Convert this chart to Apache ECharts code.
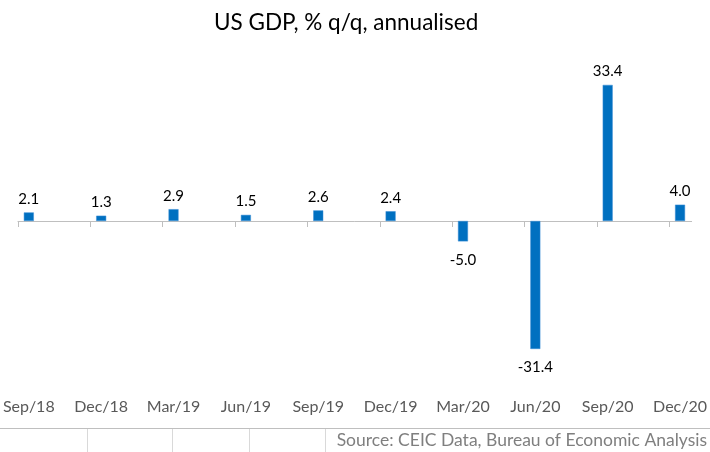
<!DOCTYPE html>
<html>
<head>
<meta charset="utf-8">
<script src="https://cdn.jsdelivr.net/npm/echarts@6/dist/echarts.min.js"></script>
<style>
html,body{margin:0;padding:0;background:#fff;}
#chart{width:710px;height:452px;}
</style>
</head>
<body>
<div id="chart"></div>
<script>
const categories = ['Sep/18','Dec/18','Mar/19','Jun/19','Sep/19','Dec/19','Mar/20','Jun/20','Sep/20','Dec/20'];
const gdpValues = [2.1, 1.3, 2.9, 1.5, 2.6, 2.4, -5.0, -31.4, 33.4, 4.0];
const titleText = 'US GDP, % q/q, annualised';
const sourceText = 'Source: CEIC Data, Bureau of Economic Analysis';

const FONT = 'Lato';
const chart = echarts.init(document.getElementById('chart'), null, {renderer: 'canvas'});

const barData = gdpValues.map((v, i) => ({
  value: [i, v],
  label: { position: v < 0 ? 'bottom' : 'top', distance: v < 0 ? 11 : 6 }
}));

const option = {
  backgroundColor: '#ffffff',
  animation: false,
  title: {
    text: titleText,
    left: 209,
    top: 6,
    textStyle: { fontFamily: FONT, fontSize: 22.5, fontWeight: 'normal', color: '#000' }
  },
  grid: { left: 17, right: 17, top: 58, bottom: 68 },
  xAxis: [
    {
      type: 'value', min: -0.15, max: 9.16,
      axisLine: { show: true, onZero: true, lineStyle: { color: '#bfbfbf', width: 1 } },
      axisTick: { show: true, length: 6, lineStyle: { color: '#bfbfbf' },
                  customValues: categories.map((c, i) => i - 0.15) },
      axisLabel: { show: false },
      splitLine: { show: false }
    },
    {
      type: 'value', min: -0.15, max: 9.16, position: 'bottom',
      axisLine: { show: false, onZero: false },
      axisTick: { show: false },
      axisLabel: {
        show: true, margin: 15, fontFamily: FONT, fontSize: 16, color: '#595959',
        customValues: categories.map((c, i) => i),
        formatter: v => categories[Math.round(v)]
      },
      splitLine: { show: false }
    }
  ],
  yAxis: { type: 'value', min: -40, max: 40, show: false },
  series: [{
    type: 'bar',
    xAxisIndex: 0,
    barWidth: 10,
    data: barData,
    itemStyle: { color: '#0070C0', borderColor: '#3d8fd6', borderWidth: 0.5 },
    label: {
      show: true, fontFamily: FONT, fontSize: 15, color: '#000',
      formatter: p => p.value[1].toFixed(1)
    }
  }],
  graphic: [
    { type: 'line', shape: { x1: 0, y1: 428.5, x2: 710, y2: 428.5 }, style: { stroke: '#bfbfbf', lineWidth: 1 } },
    { type: 'line', shape: { x1: 87.5, y1: 429, x2: 87.5, y2: 452 }, style: { stroke: '#d9d9d9', lineWidth: 1 } },
    { type: 'line', shape: { x1: 172.5, y1: 429, x2: 172.5, y2: 452 }, style: { stroke: '#d9d9d9', lineWidth: 1 } },
    { type: 'line', shape: { x1: 249.5, y1: 429, x2: 249.5, y2: 452 }, style: { stroke: '#d9d9d9', lineWidth: 1 } },
    { type: 'line', shape: { x1: 325.5, y1: 429, x2: 325.5, y2: 452 }, style: { stroke: '#d9d9d9', lineWidth: 1 } },
    { type: 'text', right: 3, top: 431,
      style: { text: sourceText, font: '17.5px ' + FONT, fill: '#7f7f7f' } }
  ]
};
chart.setOption(option);
</script>
</body>
</html>
